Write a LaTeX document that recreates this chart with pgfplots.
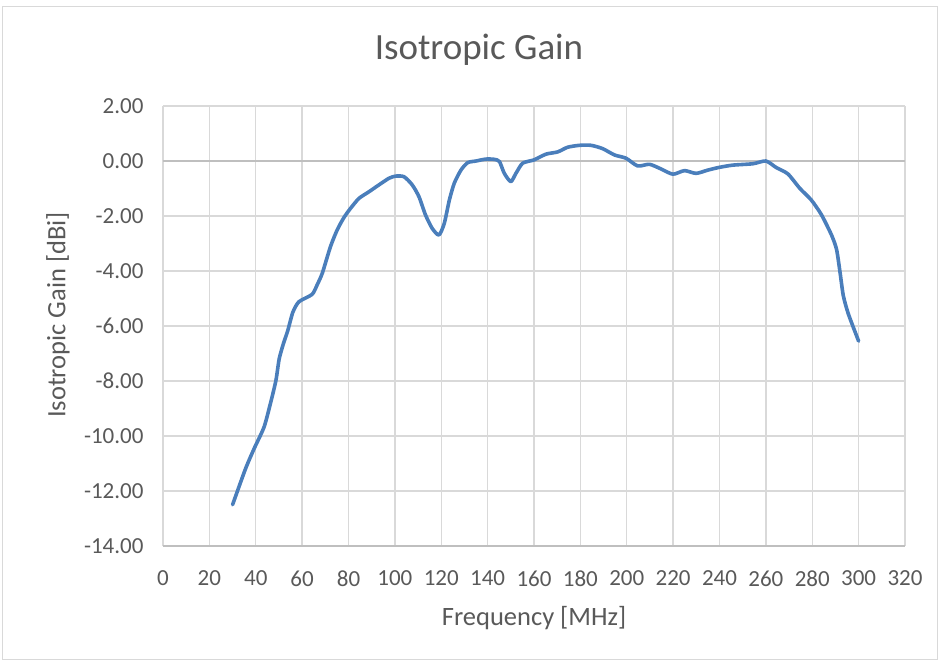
\documentclass[border=0pt]{standalone}
\usepackage{pgfplots}
\pgfplotsset{compat=1.18}
\usepackage{fontspec}
\setmainfont{Carlito}
\definecolor{txt}{HTML}{595959}
\definecolor{gridc}{HTML}{D9D9D9}
\definecolor{zeroc}{HTML}{BFBFBF}
\definecolor{line}{RGB}{74,126,187}
\definecolor{frame}{HTML}{D9D9D9}
\begin{document}
\begin{tikzpicture}
\begin{axis}[
  scale only axis, width=742bp, height=440bp,
  xmin=0, xmax=320, ymin=-14, ymax=2,
  xtick={0,20,...,320},
  xticklabels={0,20,40,60,80,100,120,140,160,180,200,220,240,260,280,300,320},
  ytick={-14,-12,...,2},
  yticklabels={-14.00,-12.00,-10.00,-8.00,-6.00,-4.00,-2.00,0.00,2.00},
  grid=major, major grid style={gridc, line width=1.3bp},
  axis line style={draw=none}, major tick length=0pt,
  tick label style={font=\fontsize{23bp}{26bp}\selectfont, text=txt},
  xticklabel style={yshift=-21bp},
  yticklabel style={xshift=-16bp},
  clip=false,
]
\draw[zeroc, line width=1.4bp] (axis cs:0,0) -- (axis cs:320,0);
\draw[zeroc, line width=1.4bp] (axis cs:0,-14) -- (axis cs:320,-14);
\addplot[line, line width=3.6bp, smooth, tension=0.4, line join=round, line cap=round] coordinates {
(30,-12.5) (35.6,-11.19) (39.3,-10.46) (43.6,-9.67) (46.5,-8.76) (48.7,-7.98)
(50.1,-7.2) (51.9,-6.65) (53.8,-6.17) (56,-5.5) (58.6,-5.12) (64.3,-4.85)
(66.5,-4.5) (68.7,-4.08) (72.2,-3.12) (75.1,-2.51) (78,-2.06) (80.9,-1.72)
(84.5,-1.36) (88.8,-1.12) (93.1,-0.87) (97.4,-0.63) (100.3,-0.55) (103.9,-0.57)
(107.5,-0.87) (110.4,-1.3) (113.2,-1.96) (116.1,-2.45) (119,-2.69) (121.3,-2.27)
(123.5,-1.42) (125.6,-0.81) (128.5,-0.33) (131.4,-0.06) (135,0.0) (139.3,0.07)
(142.9,0.06) (145.1,-0.02) (147.2,-0.45) (150,-0.75) (152.2,-0.45) (155.1,-0.08)
(160,0.04) (165.2,0.25) (170.2,0.33) (174.5,0.5) (179.6,0.57) (184.6,0.57)
(189.6,0.45) (194.7,0.22) (199.7,0.1) (204.7,-0.18) (209.8,-0.12) (214.8,-0.29)
(219.9,-0.48) (224.9,-0.35) (229.9,-0.45) (235,-0.33) (240,-0.23) (245.8,-0.15)
(254.4,-0.1) (260,0) (264.5,-0.24) (269.5,-0.47) (274.6,-0.99) (279.6,-1.42)
(284,-1.96) (288.3,-2.69) (290.5,-3.22) (292,-4.06) (293.4,-4.9) (295.6,-5.57)
(300,-6.55)
};
\end{axis}
\node[text=txt, font=\fontsize{37bp}{42bp}\selectfont] at (316bp,496bp) {Isotropic Gain};
\node[text=txt, font=\fontsize{26.5bp}{30bp}\selectfont, rotate=90] at (-105bp,231bp) {Isotropic Gain [dBi]};
\node[text=txt, font=\fontsize{26.5bp}{30bp}\selectfont] at (371bp,-72bp) {Frequency [MHz]};
\draw[frame, line width=1bp] (-160bp,-113bp) rectangle (774bp,539bp);
\pgfresetboundingbox
\path[use as bounding box] (-163bp,-116bp) rectangle (777bp,546bp);
\end{tikzpicture}
\end{document}
